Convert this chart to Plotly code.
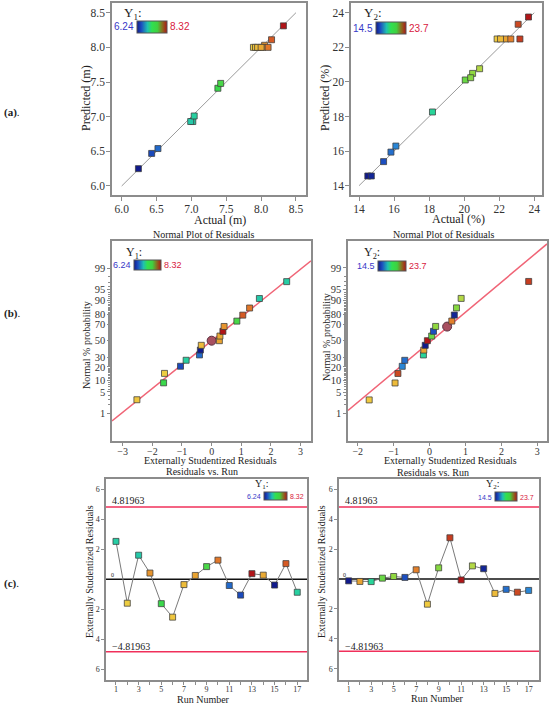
import plotly.graph_objects as go
from statistics import NormalDist

W, H = 550, 705
SERIF = "Liberation Serif"
SANS = "Liberation Sans"

# per-run data (17 runs)
runs = list(range(1, 18))
y1_actual = [7.02, 7.89, 6.99, 8.05, 7.38, 7.92, 7.95, 8.02, 7.42, 8.10, 6.52, 6.43, 8.32, 8.00, 6.24, 8.15, 7.04]
y1_pred = [6.93, 8.00, 6.93, 8.03, 7.41, 8.00, 8.00, 8.00, 7.48, 8.00, 6.54, 6.47, 8.31, 8.00, 6.25, 8.11, 7.01]
y1_resid = [2.53, -1.59, 1.61, 0.42, -1.62, -2.52, -0.35, 0.26, 0.85, 1.28, -0.41, -1.05, 0.38, 0.28, -0.38, 1.05, -0.86]

y2_actual = [14.50, 22.37, 18.19, 20.06, 20.48, 15.40, 22.66, 21.88, 20.37, 23.18, 23.67, 20.88, 14.70, 22.07, 15.82, 23.08, 16.10]
y2_pred = [14.56, 22.48, 18.26, 20.11, 20.49, 15.39, 22.48, 22.48, 20.24, 22.48, 23.75, 20.76, 14.56, 22.48, 15.94, 23.33, 16.29]
y2_resid = [-0.12, -0.16, -0.17, 0.06, 0.17, 0.11, 0.62, -1.68, 0.75, 2.76, -0.06, 0.88, 0.69, -0.96, -0.69, -0.88, -0.76]

# normal % probability of the sorted residuals
normal_pct = [2.9, 8.8, 14.7, 20.6, 26.5, 32.4, 38.2, 44.1, 50.0, 55.9, 61.8, 67.6, 73.5, 79.4, 85.3, 91.2, 97.1]
prob_ticks = [1, 5, 10, 20, 30, 50, 70, 80, 90, 95, 99]

y1_range = [6.24, 8.32]
y2_range = [14.5, 23.7]
y1_range_txt = ["6.24", "8.32"]
y2_range_txt = ["14.5", "23.7"]

a1_diag = [6.0, 8.5]
a2_diag = [14.0, 24.0]
b1_fit = [0.766, 0.0]     # slope, intercept (z units)
b2_fit = [0.962, -0.05]
b1_center = [0.0, 50.0]
b2_center = [0.49, 67.4]
limit = 4.81963

cscale = [[0, "#101a8c"], [0.1, "#1c4fc0"], [0.18, "#2a8ad8"], [0.3, "#20b8c0"],
          [0.4, "#28d49a"], [0.55, "#3ad84a"], [0.65, "#90d840"], [0.72, "#c8d848"],
          [0.8, "#f0cc40"], [0.86, "#e8a030"], [0.9, "#e07028"], [0.94, "#c84020"],
          [1, "#b01418"]]
# the little legend bars go blue -> green -> dark red
bar_scale = [[0, "#101a8c"], [0.15, "#1c4fc0"], [0.35, "#20c0b0"], [0.5, "#30e050"],
             [0.68, "#40d040"], [0.85, "#8a6a20"], [1, "#b01418"]]

nd = NormalDist()
def z(p):
    return nd.inv_cdf(p / 100.0)

def px(x):
    return x / W

def py(y):
    return 1 - y / H

fig = go.Figure()
annots = []

def ann(text, x, y, size=11, color="#222", angle=0, xanchor="center", font=SERIF):
    annots.append(dict(text=text, x=px(x), y=py(y), xref="paper", yref="paper",
                       showarrow=False, textangle=angle, xanchor=xanchor, yanchor="middle",
                       font=dict(family=font, size=size, color=color)))

def cbar(x0, y0, length, thick):
    return dict(orientation="h", x=px(x0), y=py(y0), xanchor="left", yanchor="top",
                lenmode="pixels", len=length, thickness=thick, xpad=0, ypad=0,
                showticklabels=False, ticks="", outlinewidth=1, outlinecolor="#555")

def legend_bar(crange, xa, ya, bar):
    # invisible point carrying the colour-bar legend
    fig.add_trace(go.Scatter(x=[None], y=[None], mode="markers", xaxis=xa, yaxis=ya, showlegend=False,
                             marker=dict(color=[crange[0]], colorscale=bar_scale, cmin=crange[0],
                                         cmax=crange[1], showscale=True, colorbar=bar),
                             hoverinfo="skip"))

def scale_label(name, txt, tx, ty, bx0, bx1, by, size_t, size_n):
    ann(name, tx, ty, size=size_t, xanchor="left")
    ann(txt[0], bx0 - 1, by, size=size_n, color="#3838c8", xanchor="right", font=SANS)
    ann(txt[1], bx1 + 1, by, size=size_n, color="#d82040", xanchor="left", font=SANS)

mline = dict(color="rgba(60,60,60,0.75)", width=1)

def squares(colors, crange):
    return dict(symbol="square", size=6, color=colors, colorscale=cscale,
                cmin=crange[0], cmax=crange[1], line=mline, showscale=False)

# ---- (a) predicted vs actual ----
fig.add_trace(go.Scatter(x=a1_diag, y=a1_diag, mode="lines", line=dict(color="#9a9a9a", width=1),
                         xaxis="x", yaxis="y", showlegend=False, hoverinfo="skip"))
fig.add_trace(go.Scatter(x=y1_actual, y=y1_pred, mode="markers", xaxis="x", yaxis="y", showlegend=False,
                         marker=squares(y1_actual, y1_range)))
legend_bar(y1_range, "x", "y", cbar(137, 21, 30, 12))
fig.add_trace(go.Scatter(x=a2_diag, y=a2_diag, mode="lines", line=dict(color="#9a9a9a", width=1),
                         xaxis="x2", yaxis="y2", showlegend=False, hoverinfo="skip"))
fig.add_trace(go.Scatter(x=y2_actual, y=y2_pred, mode="markers", xaxis="x2", yaxis="y2", showlegend=False,
                         marker=squares(y2_actual, y2_range)))
legend_bar(y2_range, "x2", "y2", cbar(376, 22, 30, 12))

# ---- (b) normal plots ----
def normal_panel(resid, actual, crange, fit, center, xr, xa, ya, bar):
    order = sorted(range(len(resid)), key=lambda i: resid[i])
    xs = [resid[i] for i in order]
    cs = [actual[i] for i in order]
    zs = [z(p) for p in normal_pct]
    fig.add_trace(go.Scatter(x=xr, y=[fit[0] * v + fit[1] for v in xr], mode="lines",
                             line=dict(color="#f06476", width=1.5), xaxis=xa, yaxis=ya,
                             showlegend=False, hoverinfo="skip"))
    fig.add_trace(go.Scatter(x=[center[0]], y=[z(center[1])], mode="markers", xaxis=xa, yaxis=ya,
                             showlegend=False,
                             marker=dict(symbol="circle", size=9, color="#a85060",
                                         line=dict(color="#5a3040", width=1))))
    fig.add_trace(go.Scatter(x=xs, y=zs, mode="markers", xaxis=xa, yaxis=ya, showlegend=False,
                             marker=squares(cs, crange)))
    legend_bar(crange, xa, ya, bar)

b1_x = [-3.36, 3.35]
b2_x = [-2.27, 3.27]
normal_panel(y1_resid, y1_actual, y1_range, b1_fit, b1_center, b1_x, "x3", "y3", cbar(134, 260, 27, 10))
normal_panel(y2_resid, y2_actual, y2_range, b2_fit, b2_center, b2_x, "x4", "y4", cbar(378, 261, 28, 10))

# ---- (c) residuals vs run ----
def run_panel(resid, actual, crange, xr, xa, ya, bar):
    for val, col in [(limit, "#f0305a"), (-limit, "#f0305a"), (0, "#111111")]:
        fig.add_trace(go.Scatter(x=xr, y=[val, val], mode="lines", line=dict(color=col, width=1.5),
                                 xaxis=xa, yaxis=ya, showlegend=False, hoverinfo="skip"))
    fig.add_trace(go.Scatter(x=runs, y=resid, mode="lines+markers", xaxis=xa, yaxis=ya, showlegend=False,
                             line=dict(color="#7a7a7a", width=1), marker=squares(actual, crange)))
    legend_bar(crange, xa, ya, bar)

c1_x = [0.12, 17.86]
c2_x = [0.14, 17.92]
run_panel(y1_resid, y1_actual, y1_range, c1_x, "x5", "y5", cbar(264, 492, 23, 8))
run_panel(y2_resid, y2_actual, y2_range, c2_x, "x6", "y6", cbar(495, 492, 22, 9))

# ---- axes ----
def axis(d0, d1, rng, horizontal, size=11, tl=4, **kw):
    dom = [px(d0), px(d1)] if horizontal else [py(d1), py(d0)]
    a = dict(domain=dom, range=rng, showline=True, mirror=True, linecolor="#8c8c8c", linewidth=1.5,
             ticks="outside", ticklen=tl, tickcolor="#8c8c8c", showgrid=False, zeroline=False,
             tickfont=dict(family=SERIF, size=size, color="#333"))
    a.update(kw)
    return a

ticks_a1 = [6.0, 6.5, 7.0, 7.5, 8.0, 8.5]
ticks_a2 = [14, 16, 18, 20, 22, 24]
minor_pct = [2, 3, 4, 6, 7, 8, 9] + list(range(11, 20)) + list(range(21, 30)) + list(range(31, 50)) \
    + list(range(51, 70)) + list(range(71, 80)) + list(range(81, 90)) + [91, 92, 93, 94, 96, 97, 98]
prob_axis = dict(tickmode="array", tickvals=[z(p) for p in prob_ticks], ticktext=[str(p) for p in prob_ticks],
                 minor=dict(tickmode="array", tickvals=[z(p) for p in minor_pct], ticklen=2,
                            tickcolor="#8c8c8c", ticks="outside"))
odd_runs = [r for r in runs if r % 2]
even_runs = [r for r in runs if not r % 2]
run_ticks = dict(tickmode="array", tickvals=odd_runs, ticklabelstandoff=-2,
                 minor=dict(tickmode="array", tickvals=even_runs, ticklen=3,
                            tickcolor="#8c8c8c", ticks="outside"))
res_ticks = dict(tickmode="array", tickvals=[-6, -4, -2, 2, 4, 6], ticktext=["6", "4", "2", "2", "4", "6"])

fig.update_layout(
    xaxis=axis(112, 306, [5.861, 8.644], True, 11.5, anchor="y", tickmode="array", tickvals=ticks_a1,
               ticktext=[f"{t:.1f}" for t in ticks_a1], ticklabelstandoff=-2),
    yaxis=axis(3, 195, [5.87, 8.64], False, 11.5, anchor="x", tickmode="array", tickvals=ticks_a1,
               ticktext=[f"{t:.1f}" for t in ticks_a1], ticklabelstandoff=-1),
    xaxis2=axis(351, 542, [13.54, 24.44], True, 11.5, anchor="y2", tickmode="array", tickvals=ticks_a2,
                ticklabelstandoff=-2),
    yaxis2=axis(3, 195, [13.46, 24.56], False, 11.5, anchor="x2", tickmode="array", tickvals=ticks_a2,
                ticklabelstandoff=-1),
    xaxis3=axis(112, 311, [-3.36, 3.35], True, 10, 3, anchor="y3", dtick=1, ticklabelstandoff=-3),
    yaxis3=axis(241, 441, [-3.22, 3.20], False, 10.5, 3, anchor="x3", **prob_axis),
    xaxis4=axis(348, 547, [-2.27, 3.27], True, 10, 3, anchor="y4", dtick=1, ticklabelstandoff=-3),
    yaxis4=axis(241, 441, [-3.21, 3.19], False, 10.5, 3, anchor="x4", **prob_axis),
    xaxis5=axis(106, 307, [0.12, 17.86], True, 8, 3, anchor="y5", **run_ticks),
    yaxis5=axis(479, 680, [-6.71, 6.69], False, 8, 3, anchor="x5", **res_ticks),
    xaxis6=axis(339, 539, [0.14, 17.92], True, 8, 3, anchor="y6", **run_ticks),
    yaxis6=axis(479, 680, [-6.75, 6.69], False, 8, 3, anchor="x6", **res_ticks),
)

# ---- texts ----
scale_label("Y<sub>1</sub>:", y1_range_txt, 122, 13, 137, 167, 27, 13, 10)
scale_label("Y<sub>2</sub>:", y2_range_txt, 362, 13, 376, 406, 28, 13, 10)
scale_label("Y<sub>1</sub>:", y1_range_txt, 124, 253, 134, 161, 265, 12, 9)
scale_label("Y<sub>2</sub>:", y2_range_txt, 362, 253, 378, 406, 266, 12, 9)
ann("Y<sub>1</sub>:", 253, 484, size=10, xanchor="left")
ann(y1_range_txt[0], 263, 496, size=7, color="#3838c8", xanchor="right", font=SANS)
ann(y1_range_txt[1], 288, 496, size=7, color="#d82040", xanchor="left", font=SANS)
ann("Y<sub>2</sub>:", 484, 484, size=10, xanchor="left")
ann(y2_range_txt[0], 494, 497, size=7, color="#3838c8", xanchor="right", font=SANS)
ann(y2_range_txt[1], 518, 497, size=7, color="#d82040", xanchor="left", font=SANS)

ann("Actual (m)", 220, 220, size=12)
ann("Predicted (m)", 86, 98, size=12, angle=-90)
ann("Actual (%)", 458, 219, size=12)
ann("Predicted (%)", 325, 98, size=12, angle=-90)

ann("Normal Plot of Residuals", 203, 235, size=10)
ann("Normal Plot of Residuals", 443, 235, size=10)
ann("Externally Studentized Residuals", 210, 461, size=10)
ann("Externally Studentized Residuals", 450, 461, size=10)
ann("Normal % probability", 87, 345, size=10, angle=-90)
ann("Normal % probability", 326, 337, size=10, angle=-90)

ann("Residuals vs. Run", 202, 471, size=10)
ann("Residuals vs. Run", 433, 472, size=10)
ann("Run Number", 203, 699, size=10)
ann("Run Number", 437, 698, size=10)
ann("Externally Studentized Residuals", 89, 572, size=10, angle=-90)
ann("Externally Studentized Residuals", 321, 572, size=10, angle=-90)

for x0 in (110, 343):
    ann("4.81963", x0, 500, size=10, xanchor="left")
    ann("\u22124.81963", x0, 646, size=10, xanchor="left")
ann("0", 109, 575, size=6, xanchor="left")
ann("0", 341, 575, size=6, xanchor="left")

ann("<b>(a)</b>.", 2, 112, size=11, xanchor="left")
ann("<b>(b)</b>.", 2, 313, size=11, xanchor="left")
ann("<b>(c)</b>.", 2, 583, size=11, xanchor="left")

fig.update_layout(width=W, height=H, margin=dict(l=0, r=0, t=0, b=0),
                  paper_bgcolor="white", plot_bgcolor="white", annotations=annots,
                  font=dict(family=SERIF))

fig.write_html("out.html", config={"displayModeBar": False},
               post_script="document.body.style.margin='0px';")
